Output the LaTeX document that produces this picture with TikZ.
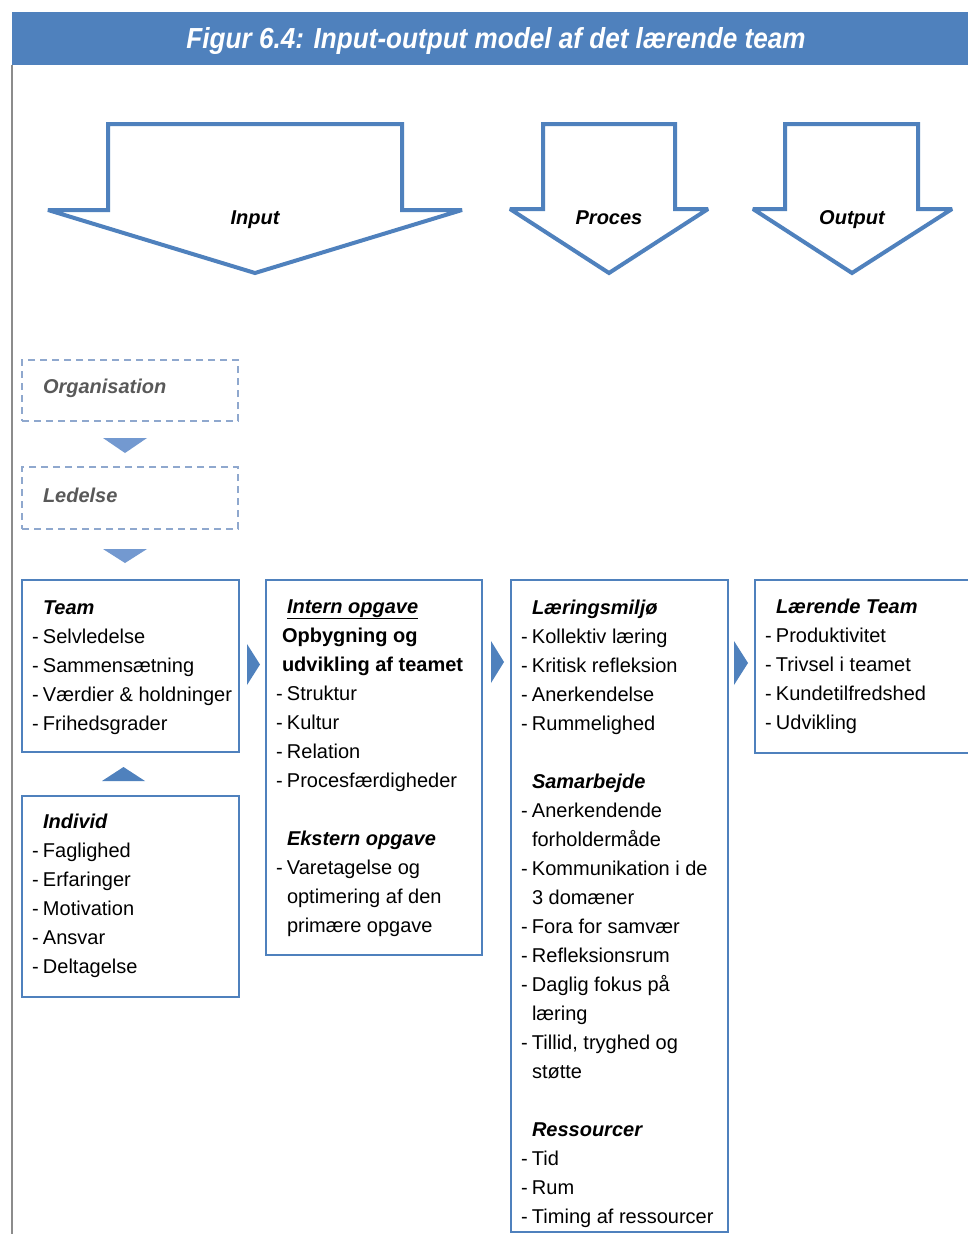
\documentclass[tikz,border=0pt]{standalone}
\usepackage{fontspec}
\setmainfont{Liberation Sans}
\usepackage{graphicx}

\definecolor{accent}{HTML}{4F81BD}
\definecolor{softblue}{HTML}{7399D0}
\definecolor{dashblue}{HTML}{8FA8CE}
\definecolor{framegray}{HTML}{8C8C8C}
\definecolor{mutedtext}{HTML}{595959}

% hanging dash in front of a list entry
\newcommand{\itemdash}{\llap{\makebox[11pt][l]{-}}}
% a block of lines with a fixed line pitch; its baseline is that of the first line
\newcommand{\linesblock}[1]{\parbox[t]{200pt}{\fontsize{20}{29}\selectfont #1}}
\newcommand{\hd}[1]{\textbf{\textit{#1}}}

\tikzset{
  solidbox/.style={draw=accent, line width=2.5pt, rectangle, inner sep=0pt},
  dashbox/.style={draw=dashblue, line width=2pt, dash pattern=on 7pt off 5pt, rectangle, inner sep=0pt},
  bigarrow/.style={draw=accent, line width=4pt, line join=miter, miter limit=1.6, fill=white},
  lines/.style={anchor=base west, inner sep=0pt, outer sep=0pt},
  arrowlabel/.style={anchor=base, inner sep=0pt, font=\fontsize{20}{24}\selectfont\bfseries\itshape},
  pointer/.style={fill=accent, draw=none},
  softpointer/.style={fill=softblue, draw=none},
}

\begin{document}
\begin{tikzpicture}[x=1pt, y=-1pt]
\useasboundingbox (0,0) rectangle (968,1234);
\clip (0,0) rectangle (968,1234);
\fill[white] (0,0) rectangle (968,1234);

% title band and left frame line
\fill[accent] (12,12) rectangle (968,65);
\draw[framegray, line width=2.5pt] (12,65) -- (12,1234);
\node[anchor=base, inner sep=0pt, text=white] (title) at (496,48)
  {\resizebox{619pt}{\height}{\fontsize{29}{34}\selectfont\bfseries\itshape Figur 6.4: Input-output model af det lærende team}};

% the three block arrows
\draw[bigarrow] (108,124) -- (402,124) -- (402,210) -- (462,210) -- (255,273) -- (48,210) -- (108,210) -- cycle;
\draw[bigarrow] (543,124) -- (675,124) -- (675,209) -- (708,209) -- (609,273) -- (510,209) -- (543,209) -- cycle;
\draw[bigarrow] (785,124) -- (918,124) -- (918,209) -- (952,209) -- (852,273) -- (753,209) -- (785,209) -- cycle;
\node[arrowlabel] (inputlbl)  at (255,224) {Input};
\node[arrowlabel] (proceslbl) at (609,224) {Proces};
\node[arrowlabel] (outputlbl) at (852,224) {Output};

% context boxes
\node[dashbox, minimum width=216pt, minimum height=61pt] (org) at (130,390.5) {};
\node[dashbox, minimum width=216pt, minimum height=62pt] (led) at (130,498) {};
\node[lines, text=mutedtext] (orgtxt) at (43,393) {\fontsize{20}{24}\selectfont\hd{Organisation}};
\node[lines, text=mutedtext] (ledtxt) at (43,502) {\fontsize{20}{24}\selectfont\hd{Ledelse}};

% main boxes
\node[solidbox, minimum width=217pt, minimum height=172pt] (team) at (130.5,666) {};
\node[solidbox, minimum width=217pt, minimum height=201pt] (individ) at (130.5,896.5) {};
\node[solidbox, minimum width=216pt, minimum height=375pt] (intern) at (374,767.5) {};
\node[solidbox, minimum width=217pt, minimum height=652pt] (laering) at (619.5,906) {};
\node[solidbox, minimum width=260pt, minimum height=173pt] (laerende) at (885,666.5) {};

% small pointers between the boxes
\fill[softpointer] (103,438) -- (147,438) -- (125,453) -- cycle;
\fill[softpointer] (103,549) -- (147,549) -- (125,563) -- cycle;
\fill[pointer] (102,781) -- (145,781) -- (123.5,767) -- cycle;
\fill[pointer] (247,644) -- (260,664.5) -- (247,685) -- cycle;
\fill[pointer] (491,641) -- (504,662) -- (491,683) -- cycle;
\fill[pointer] (734,641) -- (748,663) -- (734,685) -- cycle;

% box contents
\node[lines] (teamtxt) at (43,614) {\linesblock{%
  \hd{Team}\\
  \itemdash Selvledelse\\
  \itemdash Sammensætning\\
  \itemdash Værdier \& holdninger\\
  \itemdash Frihedsgrader}};

\node[lines] (individtxt) at (43,828) {\linesblock{%
  \hd{Individ}\\
  \itemdash Faglighed\\
  \itemdash Erfaringer\\
  \itemdash Motivation\\
  \itemdash Ansvar\\
  \itemdash Deltagelse}};

\node[lines] (interntxt) at (287,613) {\linesblock{%
  \underline{\hd{Intern opgave}}\\
  \hspace*{-5pt}\textbf{Opbygning og}\\
  \hspace*{-5pt}\textbf{udvikling af teamet}\\
  \itemdash Struktur\\
  \itemdash Kultur\\
  \itemdash Relation\\
  \itemdash Procesfærdigheder\\[29pt]
  \hd{Ekstern opgave}\\
  \itemdash Varetagelse og\\
  optimering af den\\
  primære opgave}};

\node[lines] (laeringtxt) at (532,614) {\linesblock{%
  \hd{Læringsmiljø}\\
  \itemdash Kollektiv læring\\
  \itemdash Kritisk refleksion\\
  \itemdash Anerkendelse\\
  \itemdash Rummelighed\\[29pt]
  \hd{Samarbejde}\\
  \itemdash Anerkendende\\
  forholdermåde\\
  \itemdash Kommunikation i de\\
  3 domæner\\
  \itemdash Fora for samvær\\
  \itemdash Refleksionsrum\\
  \itemdash Daglig fokus på\\
  læring\\
  \itemdash Tillid, tryghed og\\
  støtte\\[29pt]
  \hd{Ressourcer}\\
  \itemdash Tid\\
  \itemdash Rum\\
  \itemdash Timing af ressourcer}};

\node[lines] (laerendetxt) at (776,613) {\linesblock{%
  \hd{Lærende Team}\\
  \itemdash Produktivitet\\
  \itemdash Trivsel i teamet\\
  \itemdash Kundetilfredshed\\
  \itemdash Udvikling}};
\end{tikzpicture}
\end{document}
